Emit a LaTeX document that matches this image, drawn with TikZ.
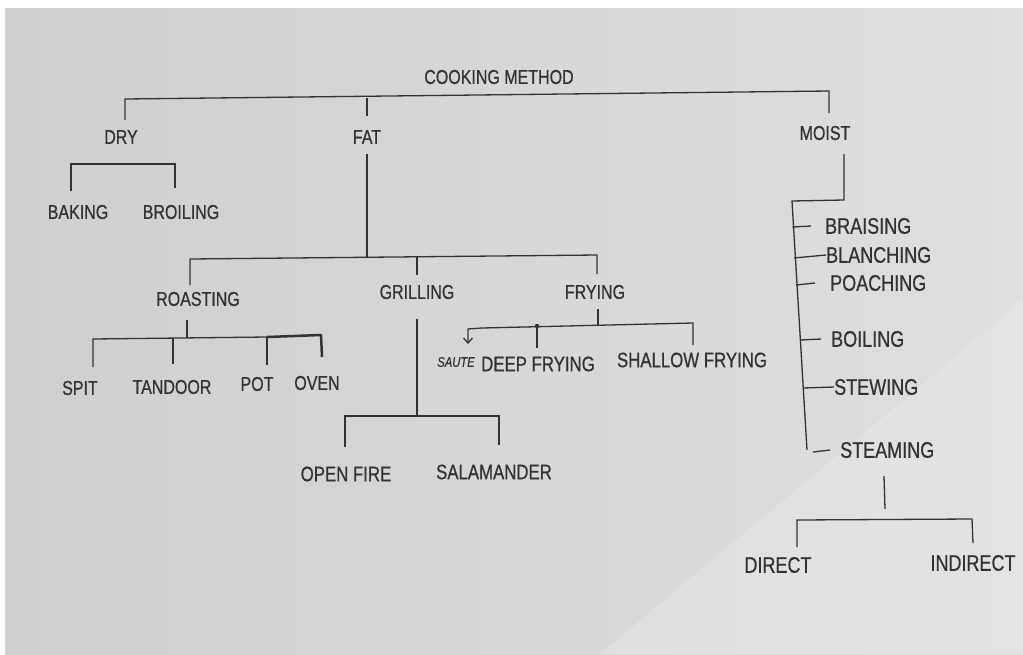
\documentclass[tikz,border=0pt]{standalone}
\usepackage{fontspec}
\setmainfont[FakeStretch=0.8,FakeBold=0.6]{Liberation Sans}
\usetikzlibrary{arrows.meta}
\definecolor{ink}{RGB}{50,50,50}
\definecolor{paperL}{RGB}{206,208,205}
\definecolor{paperR}{RGB}{222,224,221}
\definecolor{wmark}{RGB}{232,234,231}
\begin{document}
\begin{tikzpicture}[x=1pt,y=-1pt,
  lbl/.style={font=\fontsize{20}{20}\selectfont, text=ink, inner sep=0pt},
  lblM/.style={font=\fontsize{21}{21}\selectfont, text=ink, inner sep=0pt},
  lblR/.style={font=\fontsize{22.5}{22.5}\selectfont, text=ink, inner sep=0pt},
  hand/.style={font=\fontsize{14}{14}\selectfont\itshape, text=ink, inner sep=0pt},
  ln/.style={draw=ink, line width=1.3pt},
  thick ln/.style={draw=ink, line width=2.5pt}]
\useasboundingbox (0,0) rectangle (1023,654);
% paper background
\fill[white] (0,0) rectangle (1023,654);
\shade[left color=paperL, right color=paperR] (5,8) rectangle (1023,654);
\fill[wmark, opacity=0.45] (600,654) -- (1023,300) -- (1023,654) -- cycle;

% ---- labels ----
\node[lbl] (cm) at (499,77) {COOKING METHOD};
\node[lbl] (dry) at (121,137) {DRY};
\node[lbl] (fat) at (367,137) {FAT};
\node[lbl] (moist) at (825,133) {MOIST};
\node[lbl] (baking) at (78,212) {BAKING};
\node[lbl] (broiling) at (181,212) {BROILING};
\node[lbl] (roasting) at (198,299) {ROASTING};
\node[lbl] (grilling) at (417,292) {GRILLING};
\node[lbl] (frying) at (595,292) {FRYING};
\node[lbl] (spit) at (80,388) {SPIT};
\node[lbl] (tandoor) at (172,387) {TANDOOR};
\node[lbl] (pot) at (257,384) {POT};
\node[lbl] (oven) at (317,383) {OVEN};
\node[hand] (saute) at (456,362) {SAUTE};
\node[lblM] (deep) at (538,364) {DEEP FRYING};
\node[lblM] (shallow) at (692,360) {SHALLOW FRYING};
\node[lblM] (openfire) at (346,474) {OPEN FIRE};
\node[lblM] (salamander) at (494,472) {SALAMANDER};
\node[lblR, anchor=west] (braising) at (825,226) {BRAISING};
\node[lblR, anchor=west] (blanching) at (826,255) {BLANCHING};
\node[lblR, anchor=west] (poaching) at (830,283) {POACHING};
\node[lblR, anchor=west] (boiling) at (831,339) {BOILING};
\node[lblR, anchor=west] (stewing) at (834,387) {STEWING};
\node[lblR, anchor=west] (steaming) at (840,450) {STEAMING};
\node[lblR] (direct) at (778,565) {DIRECT};
\node[lblR] (indirect) at (973,563) {INDIRECT};

% ---- connector coordinates ----
\coordinate (top-l) at (125,99);
\coordinate (top-r) at (829,91);
\coordinate (top-f) at (367,98);
\coordinate (dry-t) at (125,120);
\coordinate (fat-t) at (367,116);
\coordinate (moist-t) at (829,113);

\coordinate (dry-l) at (71,164);
\coordinate (dry-r) at (175,164);
\coordinate (bak-t) at (71,191);
\coordinate (bro-t) at (175,188);

\coordinate (fat-s) at (367,154);
\coordinate (fat-b) at (367,257);
\coordinate (fb-l) at (190,259);
\coordinate (fb-r) at (597,255);
\coordinate (fb-g) at (417,257);
\coordinate (roa-t) at (190,285);
\coordinate (gri-t) at (417,275);
\coordinate (fry-t) at (597,274);

\coordinate (roa-s) at (187,320);
\coordinate (roa-b) at (187,338);
\coordinate (rb-l) at (93,339);
\coordinate (rb-t) at (173,338);
\coordinate (rb-p) at (267,337);
\coordinate (rb-o) at (321,335);
\coordinate (spi-t) at (93,367);
\coordinate (tan-t) at (173,364);
\coordinate (pot-t) at (267,365);
\coordinate (ove-t) at (322,357);

\coordinate (gri-s) at (417,319);
\coordinate (gri-b) at (417,416);
\coordinate (gb-l) at (345,416);
\coordinate (gb-r) at (499,416);
\coordinate (ope-t) at (345,447);
\coordinate (sal-t) at (499,445);

\coordinate (fry-s) at (598,309);
\coordinate (fry-b) at (598,325);
\coordinate (yb-l) at (482,328);
\coordinate (yb-h) at (468,329);
\coordinate (yb-d) at (537,326);
\coordinate (yb-r) at (693,323);
\coordinate (sau-t) at (468,344);
\coordinate (dee-t) at (537,348);
\coordinate (sha-t) at (693,345);

\coordinate (moi-s) at (844,154);
\coordinate (moi-c) at (844,200);
\coordinate (mv-t) at (792,201);
\coordinate (mv-b) at (807,450);
\coordinate (tk-1) at (792.4,227);
\coordinate (tk-2) at (794,258);
\coordinate (tk-3) at (796,285);
\coordinate (tk-4) at (800,340);
\coordinate (tk-5) at (803,388);
\coordinate (tk-6) at (813,452);

\coordinate (ste-s) at (884,476);
\coordinate (ste-b) at (885,509);
\coordinate (sb-l) at (797,520);
\coordinate (sb-r) at (972,519);
\coordinate (dir-t) at (797,547);
\coordinate (ind-t) at (973,543);

% ---- connectors ----
\draw[ln] (dry-t) -- (top-l) -- (top-r) -- (moist-t);
\draw[ln] (top-f) -- (fat-t);

\draw[ln] (bak-t) -- (dry-l) -- (dry-r) -- (bro-t);

\draw[ln] (fat-s) -- (fat-b);
\draw[ln] (roa-t) -- (fb-l) -- (fb-r) -- (fry-t);
\draw[ln] (fb-g) -- (gri-t);

\draw[ln] (roa-s) -- (roa-b);
\draw[ln] (spi-t) -- (rb-l) -- (rb-p);
\draw[ln] (rb-t) -- (tan-t);
\draw[ln] (rb-p) -- (pot-t);
\draw[thick ln, line join=round] (rb-p) -- (rb-o) -- (ove-t);

\draw[ln] (gri-s) -- (gri-b);
\draw[ln] (ope-t) -- (gb-l) -- (gb-r) -- (sal-t);

\draw[ln] (fry-s) -- (fry-b);
\draw[ln] (yb-l) -- (yb-r) -- (sha-t);
\draw[ln, -{Straight Barb[length=5pt,width=9pt]}] (yb-l) -- (yb-h) -- (sau-t);
\draw[ln] (yb-d) -- (dee-t);
\fill[ink] (yb-d) circle (2.2pt);

\draw[ln] (moi-s) -- (moi-c) -- (mv-t) -- (mv-b);
\draw[ln] (tk-1) -- ([xshift=-14pt]braising.west);
\draw[ln] (tk-2) -- (blanching.west);
\draw[ln] (tk-3) -- ([xshift=-15pt]poaching.west);
\draw[ln] (tk-4) -- ([xshift=-10pt]boiling.west);
\draw[ln] (tk-5) -- (stewing.west);
\draw[ln] (tk-6) -- ([xshift=-10pt]steaming.west);

\draw[ln] (ste-s) -- (ste-b);
\draw[ln] (dir-t) -- (sb-l) -- (sb-r) -- (ind-t);
\end{tikzpicture}
\end{document}
